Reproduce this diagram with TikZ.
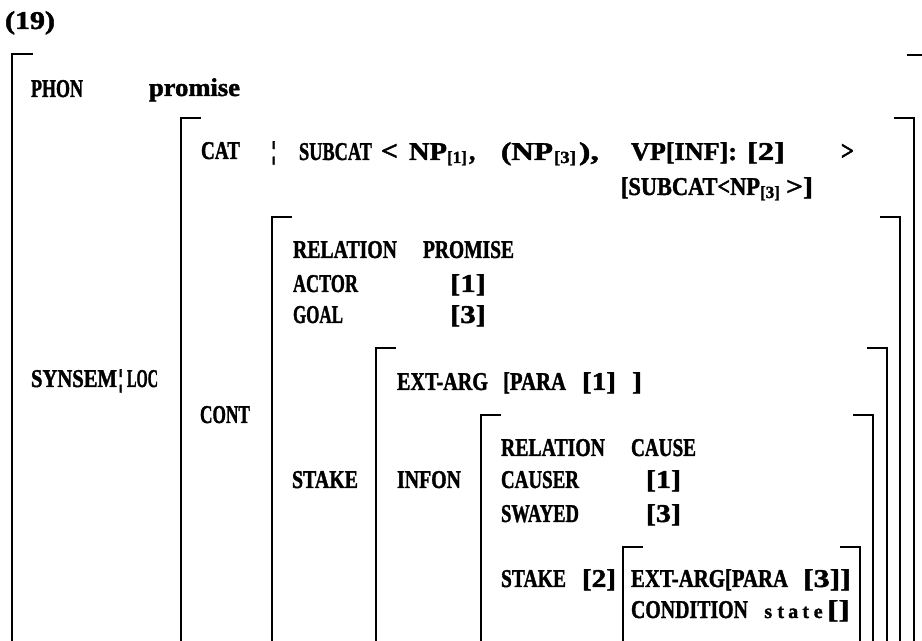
\documentclass[tikz,border=0pt]{standalone}
\usepackage{fontspec}
\setmainfont{Liberation Serif}[BoldFeatures={FakeBold=1.6}]
% one drawing unit = 0.5pt
\newdimen\px \px=0.5pt
% set a piece of text to a given width (in drawing units), keeping its height
\newcommand\tx[2]{\resizebox{#1\px}{\height}{#2}}
% one letter in a fixed cell, for letter-spaced type
\newcommand\lsp[1]{\makebox[12.5\px][c]{#1}}

\begin{document}
\begin{tikzpicture}[x=0.5pt,y=-0.5pt,
  lbl/.style={anchor=base west,inner sep=0pt,outer sep=0pt,
              font=\bfseries\fontsize{12.8}{14}\selectfont},
  sub/.style={anchor=base west,inner sep=0pt,outer sep=0pt,
              font=\bfseries\fontsize{8.5}{10}\selectfont},
  small/.style={anchor=base west,inner sep=0pt,outer sep=0pt,
              font=\bfseries\fontsize{10}{12}\selectfont},
  avm/.style={line width=1.2pt,line cap=rect}]
\useasboundingbox (0,0) rectangle (922,641);

% ---- attribute-value matrix brackets (open at the bottom) ----
\draw[avm] (32,54) -- (12,54) -- (12,650);
\draw[avm] (908,55) -- (926,55) -- (926,650);
\foreach \l/\r/\t in {181/914/118, 272/900/217, 376/887/348,
                      481/873/415, 623/860/547}{
  \draw[avm] (\l+19,\t) -- (\l,\t) -- (\l,650);
  \draw[avm] (\r-19,\t) -- (\r,\t) -- (\r,650);
}

% ---- example number ----
\node[lbl] (num) at (5,29) {\tx{50}{(19)}};

% ---- PHON ----
\node[lbl] (phon) at (31,97) {\tx{52}{PHON}};
\node[lbl] (phonv) at (149,96) {\tx{91}{promise}};

% ---- CAT ----
\node[lbl] (cat) at (201,159) {\tx{39}{CAT}};
\node[lbl] (catbar) at (271,159) {¦};
\node[lbl] (subcat) at (299,160) {\tx{73}{SUBCAT}};
\node[lbl] (lt) at (381,160) {\resizebox{17\px}{16\px}{<}};
\node[lbl] (np1) at (409,160) {\tx{38}{NP}};
\node[sub] (np1i) at (447,163) {\tx{20}{[1]}};
\node[lbl] (c1) at (469,160) {,};
\node[lbl] (np3) at (501,160) {\tx{52}{(NP}};
\node[sub] (np3i) at (554,163) {\tx{22}{[3]}};
\node[lbl] (c2) at (579,160) {\tx{20}{),}};
\node[lbl] (vp) at (631,160) {\tx{106}{VP[INF]:}};
\node[lbl] (vpi) at (747,160) {\tx{38}{[2]}};
\node[lbl] (gt) at (841,160) {\resizebox{13\px}{16\px}{>}};
\node[lbl] (vpsub) at (621,195) {\tx{139}{[SUBCAT<NP}};
\node[sub] (vpsubi) at (760,198) {\tx{20}{[3]}};
\node[lbl] (vpsube) at (786,195) {\tx{27}{>]}};

% ---- SYNSEM|LOC and CONT ----
\node[lbl] (synsem) at (31,387) {\tx{86}{SYNSEM}};
\node[lbl] (ssbar) at (118,387) {¦};
\node[lbl] (loc) at (127,387) {\tx{31}{LOC}};
\node[lbl] (cont) at (200,423) {\tx{50}{CONT}};

% ---- promise relation ----
\node[lbl] (rel1) at (293,258) {\tx{104}{RELATION}};
\node[lbl] (rel1v) at (423,258) {\tx{91}{PROMISE}};
\node[lbl] (actor) at (293,292) {\tx{65}{ACTOR}};
\node[lbl] (actorv) at (450,292) {\tx{36}{[1]}};
\node[lbl] (goal) at (293,323) {\tx{50}{GOAL}};
\node[lbl] (goalv) at (450,323) {\tx{36}{[3]}};

% ---- STAKE ----
\node[lbl] (stake1) at (292,488) {\tx{66}{STAKE}};
\node[lbl] (extarg1) at (397,390) {\tx{91}{EXT-ARG}};
\node[lbl] (para1) at (503,390) {\tx{63}{[PARA}};
\node[lbl] (para1i) at (582,390) {\tx{34}{[1]}};
\node[lbl] (para1e) at (632,390) {\tx{10}{]}};
\node[lbl] (infon) at (397,488) {\tx{64}{INFON}};

% ---- cause relation ----
\node[lbl] (rel2) at (501,456) {\tx{104}{RELATION}};
\node[lbl] (rel2v) at (631,456) {\tx{65}{CAUSE}};
\node[lbl] (causer) at (501,488) {\tx{78}{CAUSER}};
\node[lbl] (causerv) at (646,488) {\tx{35}{[1]}};
\node[lbl] (swayed) at (501,522) {\tx{78}{SWAYED}};
\node[lbl] (swayedv) at (646,522) {\tx{35}{[3]}};
\node[lbl] (stake2) at (501,587) {\tx{65}{STAKE}};
\node[lbl] (stake2i) at (582,587) {\tx{34}{[2]}};

% ---- inner stake ----
\node[lbl] (extarg2) at (631,587) {\tx{157}{EXT-ARG[PARA}};
\node[lbl] (para2) at (803,587) {\tx{48}{[3]]}};
\node[lbl] (cond) at (631,618) {\tx{117}{CONDITION}};
\node[small] (state) at (762,618) {\lsp{s}\lsp{t}\lsp{a}\lsp{t}\lsp{e}};
\node[lbl] (stateb) at (827,618) {\tx{23}{[]}};
\end{tikzpicture}
\end{document}
